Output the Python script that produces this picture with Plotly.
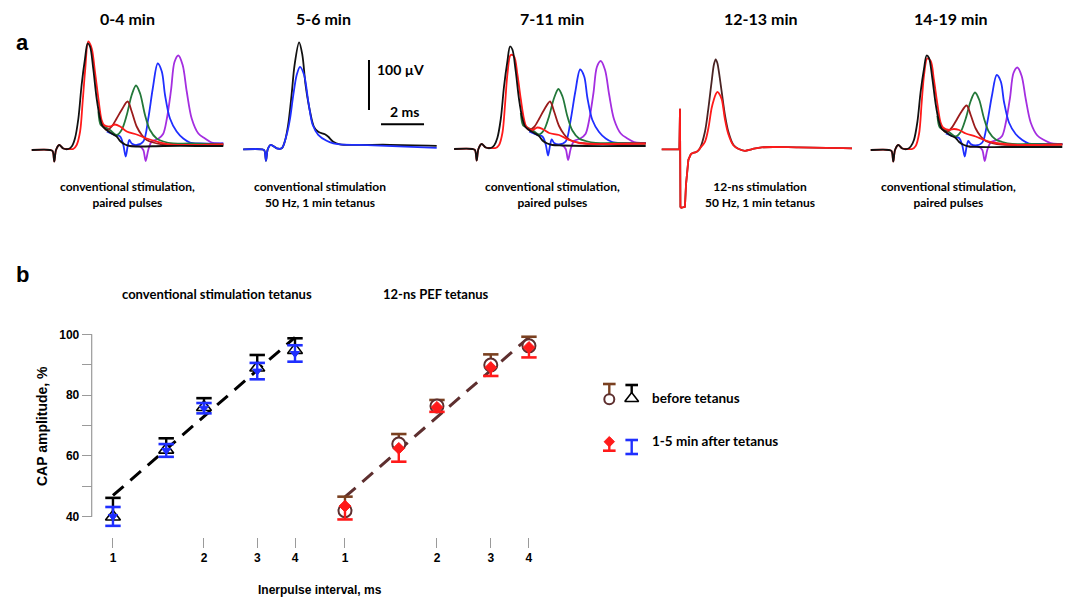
import math
import plotly.graph_objects as go

W, H = 1072, 600
def fx(p): return p / W
def fy(p): return 1 - p / H

# ================= Panel a: CAP recordings (time, ms from stimulus; amplitude, µV) =================
T_BLACK = [-1.05,-0.2,-0.08,0,0.08,0.23,0.42,0.65,0.81,0.96,1.12,1.27,1.43,1.55,1.66,1.81,1.97,2.13,2.25,2.44,2.67,2.9,3.06,3.29,3.52,3.99,5.07,6.62,7.86]
V_BLACK_1 = [0,0,-2,-23,0,10,3,2,7,23,63,130,183,213,207,163,103,63,47,40,33,27,18,11,8,7,8,8,8]
V_BLACK_3 = [0,0,-2,-23,0,10,3,2,7,22,60,125,176,205,199,157,99,60,45,38,32,26,17,11,8,7,6,6,6]
V_BLACK_5 = [0,0,-2,-23,0,10,3,2,7,20,56,116,163,189,184,145,92,56,42,36,29,24,16,10,7,6,6,6,6]

T_RED = [-1.05,-0.2,-0.08,0,0.08,0.23,0.42,0.73,0.88,1.04,1.2,1.32,1.43,1.58,1.74,1.89,2.05,2.2,2.31,2.59,2.82,3.06,3.37,3.83,4.3,4.76,5.38,6.16,7.86]
V_RED_1 = [0,0,-2,-23,0,10,3,2,2,10,37,97,157,217,203,157,103,60,50,47,51,47,37,31,23,17,11,10,11]
V_RED_3 = [0,0,-2,-23,0,10,3,2,2,8,33,90,150,188,185,150,100,60,45,38,43,40,32,28,18,12,10,10,11]
V_RED_5 = [0,0,-2,-23,0,10,3,2,2,8,33,95,150,183,178,140,92,55,45,40,42,40,33,27,19,14,11,10,11]

T_BROWN = [2.2,2.44,2.67,2.9,3.13,3.41,3.6,3.83,4.07,4.3,4.6,5.07,5.84,7.86]
V_BROWN_1 = [53,40,47,63,80,97,77,47,30,20,15,11,10,11]
V_BROWN_3 = [50,38,44,60,78,95,75,46,29,19,14,11,10,11]
V_BROWN_5 = [48,36,42,57,74,89,70,43,27,18,14,11,10,11]

T_GREEN = [2.05,2.16,2.31,2.59,2.9,3.13,3.37,3.6,3.8,3.99,4.22,4.45,4.76,5.07,5.53,6.31,7.86]
V_GREEN_1 = [77,50,47,40,30,40,70,110,129,113,70,40,23,17,13,13,11]
V_GREEN_3 = [72,47,44,38,29,38,66,102,120,105,65,37,21,16,12,12,11]
V_GREEN_5 = [68,45,42,36,27,36,63,98,115,101,63,36,21,16,12,12,11]

T_BLUE = [2.44,2.82,3.06,3.21,3.32,3.41,3.49,3.6,3.83,4.14,4.37,4.58,4.81,5.0,5.15,5.38,5.69,6.0,6.31,6.78,7.86]
V_BLUE_1 = [37,30,27,10,-13,7,20,13,10,17,63,123,173,157,110,63,37,23,15,13,13]
V_BLUE_3 = [35,28,25,9,-13,7,19,12,9,15,58,113,159,145,102,58,34,21,14,12,12]
V_BLUE_5 = [33,27,24,9,-13,7,18,12,9,15,55,107,150,137,96,55,32,20,13,12,12]

T_PURPLE = [3.52,3.99,4.14,4.25,4.37,4.53,4.82,5.06,5.24,5.43,5.59,5.77,5.97,6.16,6.39,6.7,7.01,7.32,7.63,7.86]
V_PURPLE_1 = [8,7,0,-22,0,17,22,32,64,120,176,189,170,117,63,33,23,15,13,13]
V_PURPLE_3 = [8,7,0,-22,0,16,21,30,60,112,164,176,158,109,59,31,21,14,12,12]
V_PURPLE_5 = [7,6,0,-22,0,15,20,28,56,105,154,165,148,102,55,29,20,14,12,12]

# 5-6 min: conventional 50 Hz tetanus
T_TET_BLACK = [-1.06,-0.2,-0.08,0,0.08,0.22,0.5,0.73,0.87,1.03,1.19,1.33,1.54,1.69,1.84,2.05,2.23,2.43,2.74,2.9,3.13,3.44,4.22,5.77,7.94]
V_TET_BLACK = [0,0,-2,-23,0,9,2,2,15,49,109,169,214,189,129,75,45,35,30,25,15,10,9,9,7]
T_TET_BLUE = [-1.06,-0.2,-0.08,0,0.08,0.22,0.5,0.73,0.96,1.12,1.27,1.43,1.58,1.77,1.97,2.17,2.43,2.82,3.13,3.44,5.0,7.94]
V_TET_BLUE = [0,0,-2,-23,0,9,2,2,29,62,109,149,165,149,95,49,29,17,12,10,8,3]

# 12-13 min: 12-ns stimulation 50 Hz tetanus (artifact part, then response part)
T_NS_ART = [-0.85,-0.03,0,0.02,0.06,0.23,0.28,0.33,0.39,0.5,0.6]
V_NS_ART = [0,0,81,-115,-117,-115,-70,-40,-21,-10,-7]
T_NS = [0.6,0.78,0.93,1.16,1.32,1.47,1.58,1.66,1.74,1.81,1.94,2.09,2.25,2.48,2.71,3.02,3.33,3.8,5.5,8.0]
V_NS_BEFORE = [-7,-5,2,35,82,135,170,180,172,155,115,69,35,9,1,-3,0,4,4,2]
V_NS_AFTER = [-7,-5,2,15,42,82,100,110,115,112,100,60,30,8,1,-3,0,4,4,2]

PANEL_TITLES = ["0-4 min", "5-6 min", "7-11 min", "12-13 min", "14-19 min"]
PANEL_NOTES = ["conventional stimulation,<br>paired pulses",
               "conventional stimulation<br>50 Hz, 1 min tetanus",
               "conventional stimulation,<br>paired pulses",
               "12-ns stimulation<br>50 Hz, 1 min tetanus",
               "conventional stimulation,<br>paired pulses"]

# ================= Panel b: CAP amplitude vs interpulse interval =================
INTERVALS = [1, 1.5, 2, 3, 4]
X_TICKS = [1, 2, 3, 4]
Y_TICKS = [40, 50, 60, 70, 80, 90, 100]
Y_LABELED = [40, 60, 80, 100]
CONV_BEFORE = [40, 62, 76, 89, 94.8]
CONV_BEFORE_ERR = [6.2, 3.8, 3, 4.2, 3.9]
CONV_AFTER = [40.1, 61.8, 75.7, 87.9, 93.7]
CONV_AFTER_ERR = [3.1, 2.1, 1.7, 2.7, 2.7]
PEF_BEFORE = [42, 63.9, 76.4, 89.9, 96.2]
PEF_BEFORE_ERR = [4.6, 3.3, 2, 3.5, 3]
PEF_AFTER = [43.5, 62.5, 76, 89.1, 95.7]
PEF_AFTER_ERR = [4.4, 4.4, 1.5, 2.8, 3.3]
FIT_X = [1, 4]
FIT_CONV = [47, 99]
FIT_PEF = [46.5, 99]

# ---------------- colours / fonts ----------------
C_BLACK = '#111111'; C_RED = '#ff1a1a'; C_BROWN = '#9a1b1b'; C_GREEN = '#23783a'
C_BLUE = '#1f2fff'; C_PURPLE = '#a42ee0'; C_DKBROWN = '#4a2323'
C_CIRC = '#5e2f2f'; C_CAPBR = '#7a4020'; C_AX = '#9a9a9a'
CAL = 'Lato, Carlito, sans-serif'
ARIAL = 'Liberation Sans, Arial, sans-serif'

fig = go.Figure()
layout = dict(width=W, height=H, margin=dict(l=0, r=0, t=0, b=0, autoexpand=False),
              paper_bgcolor='white', plot_bgcolor='rgba(0,0,0,0)', showlegend=False)

# ---------------- panel a axes ----------------
PANEL_T0 = [54.3, 266.0, 476.7, 680.0, 893.3]
PANEL_BASE = [150, 149.3, 149, 149.3, 150]
PX_MS, PX_UV = 21.5, 0.5
T_RANGE = [-1.2, 8.1]
V_RANGE = [-130, 240]
for i in range(5):
    k = i + 1
    t0, b = PANEL_T0[i], PANEL_BASE[i]
    layout[f'xaxis{k}'] = dict(domain=[fx(t0 + T_RANGE[0] * PX_MS), fx(t0 + T_RANGE[1] * PX_MS)],
                               range=T_RANGE, visible=False, anchor=f'y{k}')
    layout[f'yaxis{k}'] = dict(domain=[fy(b - V_RANGE[0] * PX_UV), fy(b - V_RANGE[1] * PX_UV)],
                               range=V_RANGE, visible=False, anchor=f'x{k}')

def trace(t, v, color, k, w=1.8, shape='spline'):
    fig.add_trace(go.Scatter(x=t, y=v, mode='lines', xaxis=f'x{k}', yaxis=f'y{k}',
                             line=dict(color=color, width=w, shape=shape, smoothing=0.9),
                             hoverinfo='skip'))

paired = {1: (V_BLACK_1, V_RED_1, V_BROWN_1, V_GREEN_1, V_BLUE_1, V_PURPLE_1),
          3: (V_BLACK_3, V_RED_3, V_BROWN_3, V_GREEN_3, V_BLUE_3, V_PURPLE_3),
          5: (V_BLACK_5, V_RED_5, V_BROWN_5, V_GREEN_5, V_BLUE_5, V_PURPLE_5)}
for k, (vk, vr, vb, vg, vbl, vp) in paired.items():
    trace(T_PURPLE, vp, C_PURPLE, k)
    trace(T_BLUE, vbl, C_BLUE, k)
    trace(T_GREEN, vg, C_GREEN, k)
    trace(T_BROWN, vb, C_BROWN, k)
    trace(T_RED, vr, C_RED, k)
    trace(T_BLACK, vk, C_BLACK, k)

trace(T_TET_BLACK, V_TET_BLACK, C_BLACK, 2)
trace(T_TET_BLUE, V_TET_BLUE, C_BLUE, 2)
trace(T_NS, V_NS_BEFORE, C_DKBROWN, 4)
trace(T_NS_ART, V_NS_ART, C_DKBROWN, 4, shape='linear')
trace(T_NS, V_NS_AFTER, C_RED, 4)
trace(T_NS_ART, V_NS_ART, C_RED, 4, shape='linear')

shapes = []
# scale bar (100 µV, 2 ms) in panel-2 data units
SB_T, SB_V0 = 4.79, 78.6
shapes.append(dict(type='line', xref='x2', yref='y2', x0=SB_T, x1=SB_T, y0=SB_V0, y1=SB_V0 + 100,
                   line=dict(color='black', width=2)))
shapes.append(dict(type='line', xref='x2', yref='y2', x0=5.35, x1=5.35 + 2, y0=50, y1=50,
                   line=dict(color='black', width=2)))

annotations = []
def text(s, x, y, size, family=CAL, xanchor='center', angle=0, yanchor='middle'):
    annotations.append(dict(text=s, x=fx(x), y=fy(y), xref='paper', yref='paper', showarrow=False,
                            xanchor=xanchor, yanchor=yanchor, textangle=angle,
                            font=dict(family=family, size=size, color='black', weight='bold')))

TITLE_X = [127, 323, 552, 760, 950]
NOTE_X = [127, 320, 552, 760, 948]
for i in range(5):
    text(PANEL_TITLES[i], TITLE_X[i], 18, 16)
    text(PANEL_NOTES[i], NOTE_X[i], 195, 12)
text('a', 22, 42, 22, family=ARIAL)
text('b', 22, 275, 22, family=ARIAL)
text('100 µV', 375, 69, 14, xanchor='left')
text('2 ms', 404, 111, 14)

# ---------------- panel b axes ----------------
YR = [33, 103]
Y_DOM = [fy(538.0), fy(325.2)]
XR = [-0.07, 0.65]
AX_Y = 536.7
tick_font = dict(family=ARIAL, size=12, color='black', weight='bold')
layout['xaxis6'] = dict(type='log', range=XR, domain=[fx(91.8), fx(309.5)], anchor='free', position=fy(AX_Y),
                        showline=False, showgrid=False, zeroline=False, ticks='outside', ticklen=10,
                        tickcolor=C_AX, tickwidth=1.2, tickvals=X_TICKS, ticktext=[str(v) for v in X_TICKS],
                        tickfont=tick_font)
layout['yaxis6'] = dict(range=YR, domain=Y_DOM, anchor='free', position=fx(91.7),
                        showline=False, showgrid=False, zeroline=False, ticks='outside', ticklen=10,
                        tickcolor=C_AX, tickwidth=1.2, tickvals=Y_TICKS,
                        ticktext=[str(v) if v in Y_LABELED else '' for v in Y_TICKS], tickfont=tick_font)
layout['xaxis7'] = dict(type='log', range=XR, domain=[fx(323.6), fx(543.6)], anchor='free', position=fy(AX_Y),
                        showline=False, showgrid=False, zeroline=False, ticks='outside', ticklen=10,
                        tickcolor=C_AX, tickwidth=1.2, tickvals=X_TICKS, ticktext=[str(v) for v in X_TICKS],
                        tickfont=tick_font)
layout['yaxis7'] = dict(range=YR, domain=Y_DOM, anchor='x7', visible=False)
# axis lines spanning only the tick range (R style)
for xa in ['x6', 'x7']:
    shapes.append(dict(type='line', xref=xa, yref='paper', x0=math.log10(X_TICKS[0]), x1=math.log10(X_TICKS[-1]),
                       y0=fy(AX_Y), y1=fy(AX_Y), line=dict(color=C_AX, width=1.2)))
shapes.append(dict(type='line', xref='paper', yref='y6', x0=fx(91.7), x1=fx(91.7), y0=Y_TICKS[0], y1=Y_TICKS[-1],
                   line=dict(color=C_AX, width=1.2)))

def stems(xs, lo, hi, color, xa, ya, w=2.4):
    x, y = [], []
    for a, l, h in zip(xs, lo, hi):
        x += [a, a, None]; y += [l, h, None]
    fig.add_trace(go.Scatter(x=x, y=y, mode='lines', xaxis=xa, yaxis=ya, line=dict(color=color, width=w),
                             hoverinfo='skip'))

def caps(xs, ys, color, xa, ya, size=11, w=2.6):
    fig.add_trace(go.Scatter(x=xs, y=ys, mode='markers', xaxis=xa, yaxis=ya, cliponaxis=False,
                             marker=dict(symbol='line-ew', size=size, line=dict(color=color, width=w)),
                             hoverinfo='skip'))

def markers(xs, ys, symbol, size, fill, edge, ew, xa, ya):
    fig.add_trace(go.Scatter(x=xs, y=ys, mode='markers', xaxis=xa, yaxis=ya, cliponaxis=False,
                             marker=dict(symbol=symbol, size=size, color=fill, line=dict(color=edge, width=ew)),
                             hoverinfo='skip'))

# left: conventional stimulation tetanus
fig.add_trace(go.Scatter(x=FIT_X, y=FIT_CONV, mode='lines', xaxis='x6', yaxis='y6',
                         line=dict(color='black', width=3, dash='14px,9px'), hoverinfo='skip'))
cb_top = [m + e for m, e in zip(CONV_BEFORE, CONV_BEFORE_ERR)]
stems(INTERVALS, CONV_BEFORE, cb_top, 'black', 'x6', 'y6')
caps(INTERVALS, cb_top, 'black', 'x6', 'y6')
markers(INTERVALS, CONV_BEFORE, 'triangle-up', 13, 'white', 'black', 1.6, 'x6', 'y6')
ca_lo = [m - e for m, e in zip(CONV_AFTER, CONV_AFTER_ERR)]
ca_hi = [m + e for m, e in zip(CONV_AFTER, CONV_AFTER_ERR)]
stems(INTERVALS, ca_lo, ca_hi, C_BLUE, 'x6', 'y6')
caps(INTERVALS, ca_lo, C_BLUE, 'x6', 'y6')
caps(INTERVALS, ca_hi, C_BLUE, 'x6', 'y6')
markers(INTERVALS, CONV_AFTER, 'triangle-down', 8, C_BLUE, C_BLUE, 1, 'x6', 'y6')

# right: 12-ns PEF tetanus
fig.add_trace(go.Scatter(x=FIT_X, y=FIT_PEF, mode='lines', xaxis='x7', yaxis='y7',
                         line=dict(color=C_CIRC, width=3, dash='14px,9px'), hoverinfo='skip'))
pb_top = [m + e for m, e in zip(PEF_BEFORE, PEF_BEFORE_ERR)]
stems(INTERVALS, PEF_BEFORE, pb_top, C_CAPBR, 'x7', 'y7')
caps(INTERVALS, pb_top, C_CAPBR, 'x7', 'y7')
markers(INTERVALS, PEF_BEFORE, 'circle', 13, 'white', C_CIRC, 2, 'x7', 'y7')
pa_lo = [m - e for m, e in zip(PEF_AFTER, PEF_AFTER_ERR)]
stems(INTERVALS, pa_lo, PEF_AFTER, C_RED, 'x7', 'y7')
caps(INTERVALS, pa_lo, C_RED, 'x7', 'y7')
markers(INTERVALS, PEF_AFTER, 'diamond', 9, C_RED, C_RED, 1, 'x7', 'y7')

text('conventional stimulation tetanus', 217, 294, 13)
text('12-ns PEF tetanus', 436, 294, 13)
text('CAP amplitude, %', 42, 426, 14, family=ARIAL, angle=-90)
text('Inerpulse interval, ms', 320, 590, 12, family=ARIAL)

# ---------------- legend (drawn in a pixel-space overlay) ----------------
layout['xaxis8'] = dict(domain=[0, 1], range=[0, W], visible=False, anchor='y8')
layout['yaxis8'] = dict(domain=[0, 1], range=[H, 0], visible=False, anchor='x8')
stems([609.3], [384], [395], C_CAPBR, 'x8', 'y8')
caps([609.3], [384], C_CAPBR, 'x8', 'y8', size=9)
markers([609.3], [399.3], 'circle', 10, 'white', C_CIRC, 2, 'x8', 'y8')
stems([631.7], [385], [393], 'black', 'x8', 'y8')
caps([631.7], [385], 'black', 'x8', 'y8', size=9)
markers([631.7], [398.5], 'triangle-up', 12, 'white', 'black', 1.6, 'x8', 'y8')
stems([609.3], [441.7], [450.7], C_RED, 'x8', 'y8')
caps([609.3], [450.7], C_RED, 'x8', 'y8', size=9)
markers([609.3], [441.7], 'diamond', 8, C_RED, C_RED, 1, 'x8', 'y8')
stems([631.7], [440], [454], C_BLUE, 'x8', 'y8')
caps([631.7, 631.7], [440, 454], C_BLUE, 'x8', 'y8', size=9)
text('before tetanus', 650, 398, 13.5, xanchor='left')
text('1-5 min after tetanus', 650, 441, 13.5, xanchor='left')

layout['shapes'] = shapes
layout['annotations'] = annotations
fig.update_layout(**layout)
fig.write_html('out.html', config={'displayModeBar': False},
               post_script="document.body.style.margin='0';")
